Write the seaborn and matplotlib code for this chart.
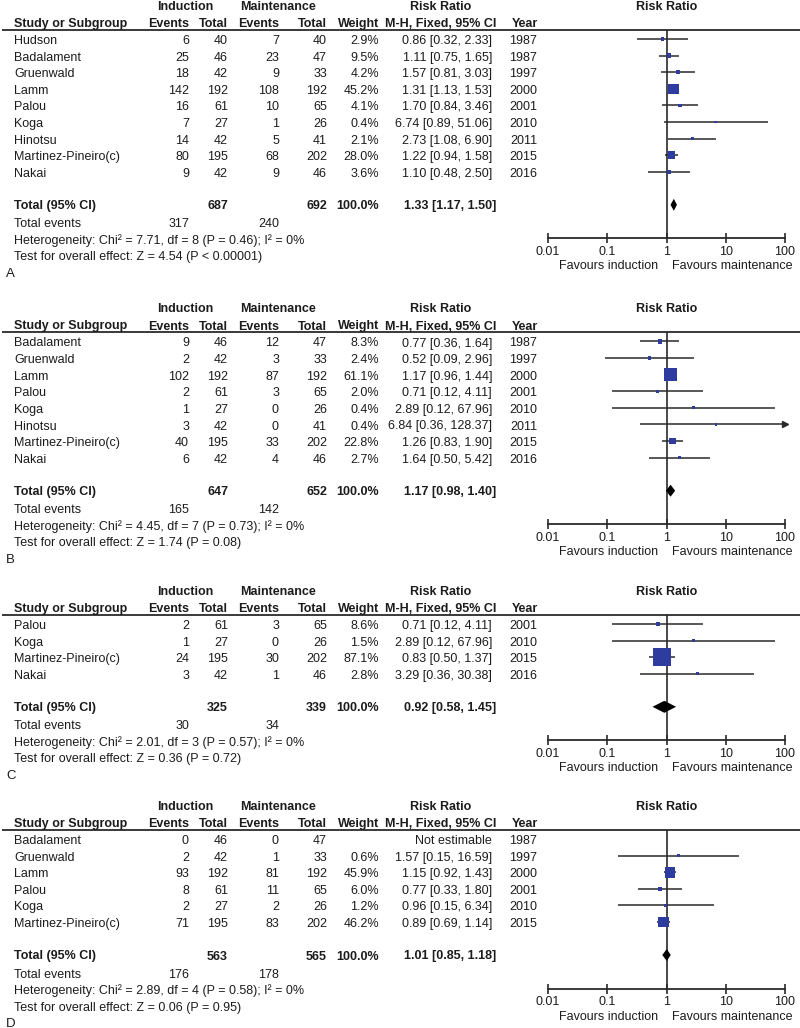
import numpy as np
import matplotlib
matplotlib.use("Agg")
import matplotlib.pyplot as plt
import seaborn as sns

# ---------------- DATA ----------------
# Panel A
studies_a = ["Hudson", "Badalament", "Gruenwald", "Lamm", "Palou", "Koga", "Hinotsu", "Martinez-Pineiro(c)", "Nakai"]
ind_events_a = [6, 25, 18, 142, 16, 7, 14, 80, 9]
ind_total_a = [40, 46, 42, 192, 61, 27, 42, 195, 42]
mnt_events_a = [7, 23, 9, 108, 10, 1, 5, 68, 9]
mnt_total_a = [40, 47, 33, 192, 65, 26, 41, 202, 46]
weight_a = [2.9, 9.5, 4.2, 45.2, 4.1, 0.4, 2.1, 28.0, 3.6]
rr_a = [0.86, 1.11, 1.57, 1.31, 1.70, 6.74, 2.73, 1.22, 1.10]
lo_a = [0.32, 0.75, 0.81, 1.13, 0.84, 0.89, 1.08, 0.94, 0.48]
hi_a = [2.33, 1.65, 3.03, 1.53, 3.46, 51.06, 6.90, 1.58, 2.50]
year_a = [1987, 1987, 1997, 2000, 2001, 2010, 2011, 2015, 2016]
total_a = {"ind_total": 687, "mnt_total": 692, "rr": 1.33, "lo": 1.17, "hi": 1.50,
           "ind_ev": 317, "mnt_ev": 240, "chi": "7.71", "df": 8, "p_het": "P = 0.46", "i2": 0,
           "z": "4.54", "p_z": "P < 0.00001"}

# Panel B
studies_b = ["Badalament", "Gruenwald", "Lamm", "Palou", "Koga", "Hinotsu", "Martinez-Pineiro(c)", "Nakai"]
ind_events_b = [9, 2, 102, 2, 1, 3, 40, 6]
ind_total_b = [46, 42, 192, 61, 27, 42, 195, 42]
mnt_events_b = [12, 3, 87, 3, 0, 0, 33, 4]
mnt_total_b = [47, 33, 192, 65, 26, 41, 202, 46]
weight_b = [8.3, 2.4, 61.1, 2.0, 0.4, 0.4, 22.8, 2.7]
rr_b = [0.77, 0.52, 1.17, 0.71, 2.89, 6.84, 1.26, 1.64]
lo_b = [0.36, 0.09, 0.96, 0.12, 0.12, 0.36, 0.83, 0.50]
hi_b = [1.64, 2.96, 1.44, 4.11, 67.96, 128.37, 1.90, 5.42]
year_b = [1987, 1997, 2000, 2001, 2010, 2011, 2015, 2016]
total_b = {"ind_total": 647, "mnt_total": 652, "rr": 1.17, "lo": 0.98, "hi": 1.40,
           "ind_ev": 165, "mnt_ev": 142, "chi": "4.45", "df": 7, "p_het": "P = 0.73", "i2": 0,
           "z": "1.74", "p_z": "P = 0.08"}

# Panel C
studies_c = ["Palou", "Koga", "Martinez-Pineiro(c)", "Nakai"]
ind_events_c = [2, 1, 24, 3]
ind_total_c = [61, 27, 195, 42]
mnt_events_c = [3, 0, 30, 1]
mnt_total_c = [65, 26, 202, 46]
weight_c = [8.6, 1.5, 87.1, 2.8]
rr_c = [0.71, 2.89, 0.83, 3.29]
lo_c = [0.12, 0.12, 0.50, 0.36]
hi_c = [4.11, 67.96, 1.37, 30.38]
year_c = [2001, 2010, 2015, 2016]
total_c = {"ind_total": 325, "mnt_total": 339, "rr": 0.92, "lo": 0.58, "hi": 1.45,
           "ind_ev": 30, "mnt_ev": 34, "chi": "2.01", "df": 3, "p_het": "P = 0.57", "i2": 0,
           "z": "0.36", "p_z": "P = 0.72"}

# Panel D
studies_d = ["Badalament", "Gruenwald", "Lamm", "Palou", "Koga", "Martinez-Pineiro(c)"]
ind_events_d = [0, 2, 93, 8, 2, 71]
ind_total_d = [46, 42, 192, 61, 27, 195]
mnt_events_d = [0, 1, 81, 11, 2, 83]
mnt_total_d = [47, 33, 192, 65, 26, 202]
weight_d = [np.nan, 0.6, 45.9, 6.0, 1.2, 46.2]
rr_d = [np.nan, 1.57, 1.15, 0.77, 0.96, 0.89]
lo_d = [np.nan, 0.15, 0.92, 0.33, 0.15, 0.69]
hi_d = [np.nan, 16.59, 1.43, 1.80, 6.34, 1.14]
year_d = [1987, 1997, 2000, 2001, 2010, 2015]
total_d = {"ind_total": 563, "mnt_total": 565, "rr": 1.01, "lo": 0.85, "hi": 1.18,
           "ind_ev": 176, "mnt_ev": 178, "chi": "2.89", "df": 4, "p_het": "P = 0.58", "i2": 0,
           "z": "0.06", "p_z": "P = 0.95"}

panel_letters = ["A", "B", "C", "D"]
tick_values = [0.01, 0.1, 1, 10, 100]
tick_labels = ["0.01", "0.1", "1", "10", "100"]

# ---------------- STYLE ----------------
sns.set_theme(style="white")
plt.rcParams['font.family'] = ['Liberation Sans', 'DejaVu Sans']
FS = 9.0
TXT = "#1c1c1c"
LINE = "#2a2a2a"
BLUE = "#2d3c9e"

W, H = 800, 1028
fig = plt.figure(figsize=(W / 100, H / 100), dpi=100)
base = fig.add_axes([0, 0, 1, 1])
base.set_xlim(0, W)
base.set_ylim(H, 0)
base.axis("off")


def T(x, y, s, ha="left", bold=False, size=FS):
    base.text(x, y, s, ha=ha, va="center", fontsize=size,
              fontweight="bold" if bold else "normal", color=TXT)


# column x positions (px)
X_NAME = 14
X_IEV, X_ITOT, X_MEV, X_MTOT, X_W, X_CI, X_YR = 189, 228, 279, 327, 379, 492, 537
X0, X1 = 548, 785
ROW = 16.6


def fmt_ci(r, l, h):
    return f"{r:.2f} [{l:.2f}, {h:.2f}]"


def panel(line_y, letter, studies, iev, itot, mev, mtot, wt, rr, lo, hi, yr, tot):
    n = len(studies)
    first = line_y + 9.5
    ys = first + np.arange(n) * ROW
    diamond_y = ys[-1] + 33
    axis_y = diamond_y + 33.5

    # headers
    h1 = line_y - 22.6
    h2 = line_y - 5.5
    T(185, h1, "Induction", ha="center", bold=True)
    T(278, h1, "Maintenance", ha="center", bold=True)
    T(441, h1, "Risk Ratio", ha="center", bold=True)
    T(666.5, h1, "Risk Ratio", ha="center", bold=True)
    T(X_NAME, h2, "Study or Subgroup", bold=True)
    T(X_IEV, h2, "Events", ha="right", bold=True)
    T(X_ITOT, h2, "Total", ha="right", bold=True)
    T(X_MEV, h2, "Events", ha="right", bold=True)
    T(X_MTOT, h2, "Total", ha="right", bold=True)
    T(X_W, h2, "Weight", ha="right", bold=True)
    T(441, h2, "M-H, Fixed, 95% CI", ha="center", bold=True)
    T(X_YR + 1, h2, "Year", ha="right", bold=True)
    base.plot([2, 800], [line_y, line_y], color=LINE, lw=1.3, solid_capstyle="butt")

    # study rows
    for i in range(n):
        y = ys[i] + 2
        T(X_NAME, y, studies[i])
        T(X_IEV, y, str(iev[i]), ha="right")
        T(X_ITOT, y, str(itot[i]), ha="right")
        T(X_MEV, y, str(mev[i]), ha="right")
        T(X_MTOT, y, str(mtot[i]), ha="right")
        if np.isnan(rr[i]):
            T(X_CI, y, "Not estimable", ha="right")
        else:
            T(X_W, y, f"{wt[i]:.1f}%", ha="right")
            T(X_CI, y, fmt_ci(rr[i], lo[i], hi[i]), ha="right")
        T(X_YR, y, str(yr[i]), ha="right")

    # totals
    ty = diamond_y + 1.5
    T(X_NAME, ty, "Total (95% CI)", bold=True)
    T(X_ITOT, ty, str(tot["ind_total"]), ha="right", bold=True)
    T(X_MTOT, ty, str(tot["mnt_total"]), ha="right", bold=True)
    T(X_W, ty, "100.0%", ha="right", bold=True)
    T(X_CI + 4, ty, fmt_ci(tot["rr"], tot["lo"], tot["hi"]), ha="right", bold=True)
    ey = ty + 18
    T(X_NAME, ey, "Total events")
    T(X_IEV, ey, str(tot["ind_ev"]), ha="right")
    T(X_MEV, ey, str(tot["mnt_ev"]), ha="right")
    T(X_NAME, ey + 16.5,
      f"Heterogeneity: Chi\u00b2 = {tot['chi']}, df = {tot['df']} ({tot['p_het']}); I\u00b2 = {tot['i2']}%")
    T(X_NAME, ey + 33, f"Test for overall effect: Z = {tot['z']} ({tot['p_z']})")
    T(6, ey + 49.5, letter, size=FS + 0.5)

    # forest axes (data y == pixel y)
    ax = fig.add_axes([X0 / W, 1 - axis_y / H, (X1 - X0) / W, (axis_y - line_y) / H])
    ax.set_xscale("log")
    ax.patch.set_alpha(0)
    for sp in ["top", "right", "left"]:
        ax.spines[sp].set_visible(False)
    ax.spines["bottom"].set_color(LINE)
    ax.spines["bottom"].set_linewidth(1.3)
    ax.axvline(1, color=LINE, lw=1.2, zorder=1)

    rr_arr = np.array(rr, dtype=float)
    lo_arr = np.array(lo, dtype=float)
    hi_arr = np.array(hi, dtype=float)
    wt_arr = np.array(wt, dtype=float)
    ok = ~np.isnan(rr_arr)
    hi_clip = np.minimum(hi_arr[ok], 100)
    ax.hlines(ys[ok], lo_arr[ok], hi_clip, color=LINE, lw=1.1, zorder=2)
    over = ok & (hi_arr > 100)
    if over.any():
        ax.plot(np.full(over.sum(), 100.0), ys[over], marker=">", ms=5,
                color=LINE, ls="none", clip_on=False, zorder=3)
    side = 2.8 + 0.171 * wt_arr[ok]
    sizes = (side * 0.72) ** 2
    sns.scatterplot(x=rr_arr[ok], y=ys[ok], s=sizes, marker="s", color=BLUE,
                    linewidth=0, ax=ax, legend=False, zorder=4)
    hh = 6.0
    ax.fill([tot["lo"], tot["rr"], tot["hi"], tot["rr"]],
            [diamond_y, diamond_y - hh, diamond_y, diamond_y + hh],
            color="black", lw=0, zorder=5)

    ax.set_xlim(0.01, 100)
    ax.set_ylim(axis_y, line_y)
    ax.set_xticks(tick_values)
    ax.set_xticklabels(tick_labels)
    ax.minorticks_off()
    ax.set_yticks([])
    ax.tick_params(axis="x", direction="inout", length=7, width=1.2, color=LINE,
                   pad=2, labelsize=FS, labelcolor=TXT, bottom=True)
    ax.set_xlabel("")
    ax.set_ylabel("")

    T(658, axis_y + 28, "Favours induction", ha="right")
    T(672, axis_y + 28, "Favours maintenance", ha="left")


panel(29.5, panel_letters[0], studies_a, ind_events_a, ind_total_a, mnt_events_a, mnt_total_a,
      weight_a, rr_a, lo_a, hi_a, year_a, total_a)
panel(332.0, panel_letters[1], studies_b, ind_events_b, ind_total_b, mnt_events_b, mnt_total_b,
      weight_b, rr_b, lo_b, hi_b, year_b, total_b)
panel(614.5, panel_letters[2], studies_c, ind_events_c, ind_total_c, mnt_events_c, mnt_total_c,
      weight_c, rr_c, lo_c, hi_c, year_c, total_c)
panel(829.5, panel_letters[3], studies_d, ind_events_d, ind_total_d, mnt_events_d, mnt_total_d,
      weight_d, rr_d, lo_d, hi_d, year_d, total_d)

fig.savefig("out.png", dpi=100)
